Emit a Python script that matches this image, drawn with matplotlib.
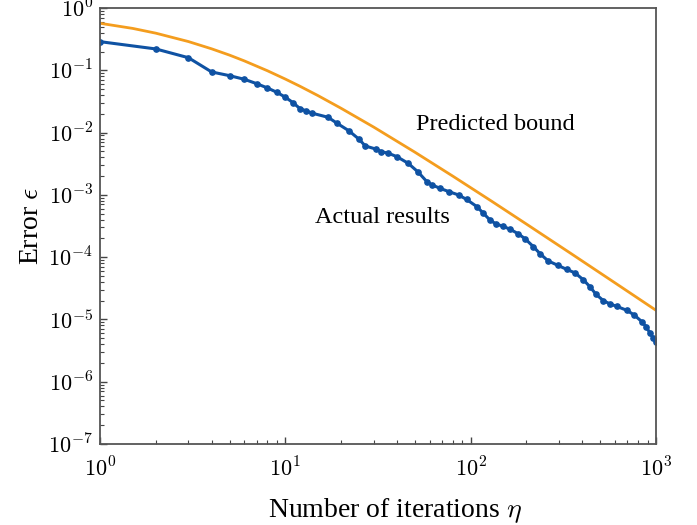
#! /usr/bin/python3
import matplotlib
matplotlib.use("Agg")
import matplotlib.pyplot as plt
from matplotlib.ticker import LogLocator, NullFormatter, FuncFormatter
import numpy as np

# actual results (blue)
actual_iter = [1, 2, 3, 4, 5, 6, 7, 8, 9, 10, 11, 12, 13, 14, 17, 19, 22, 25, 27,
               31, 33, 36, 40, 46, 52, 58, 62, 68, 76, 86, 95, 108, 117, 127, 137,
               150, 163, 181, 197, 218, 237, 262, 296, 330, 366, 406, 441, 475,
               520, 565, 614, 696, 762, 838, 885, 929, 965, 1000]
actual_err = [0.288, 0.22, 0.159, 0.094, 0.0819, 0.0717, 0.061, 0.052, 0.0443,
              0.0369, 0.0302, 0.0242, 0.0222, 0.0204, 0.0176, 0.0141, 0.0107,
              7.8e-3, 6.09e-3, 5.4e-3, 4.93e-3, 4.65e-3, 4.1e-3, 3.21e-3,
              2.33e-3, 1.63e-3, 1.44e-3, 1.28e-3, 1.13e-3, 9.96e-4, 8.44e-4,
              6.47e-4, 5.07e-4, 3.95e-4, 3.41e-4, 3.11e-4, 2.81e-4, 2.36e-4,
              1.96e-4, 1.47e-4, 1.13e-4, 8.69e-5, 7.36e-5, 6.35e-5, 5.57e-5,
              4.31e-5, 3.32e-5, 2.52e-5, 2.0e-5, 1.77e-5, 1.62e-5, 1.4e-5,
              1.18e-5, 9.22e-6, 7.59e-6, 6.01e-6, 5.05e-6, 4.28e-6]

# predicted bound (orange)
bound_iter = [1, 1.5, 2, 3, 4, 5, 6, 8, 10, 12, 15, 20, 30, 50, 80, 130, 200,
              350, 600, 1000]
bound_err = [0.568, 0.47, 0.394, 0.289, 0.221, 0.175, 0.1416, 0.0983, 0.0722,
             0.0553, 0.0392, 0.0245, 0.01222, 4.84e-3, 2.0e-3, 7.87e-4,
             3.39e-4, 1.127e-4, 3.87e-5, 1.4e-5]

BLUE = "#0f52a3"
ORANGE = "#f49d1e"

plt.rcParams["font.family"] = ["Liberation Serif", "DejaVu Serif"]
plt.rcParams["mathtext.fontset"] = "cm"

fig = plt.figure(figsize=(6.97, 5.25), dpi=100)
ax = fig.add_axes([0.1435, 0.1543, 0.7977, 0.8305])

ax.plot(bound_iter, bound_err, color=ORANGE, lw=2.0)
ax.plot(actual_iter, actual_err, color=BLUE, lw=2.2, marker="o", markersize=3.8)

ax.set_xscale("log")
ax.set_yscale("log")
ax.set_xlim(1, 1000)
ax.set_ylim(1e-7, 1)

pow_fmt = FuncFormatter(lambda v, pos: r"$10^{%d}$" % int(round(np.log10(v))))
ax.xaxis.set_major_formatter(pow_fmt)
ax.yaxis.set_major_locator(LogLocator(base=10, numticks=10))
ax.yaxis.set_major_formatter(pow_fmt)
ax.yaxis.set_minor_locator(LogLocator(base=10, subs=range(2, 10), numticks=20))
ax.yaxis.set_minor_formatter(NullFormatter())
ax.xaxis.set_minor_formatter(NullFormatter())

ax.tick_params(which="both", direction="in", top=False, right=False,
               labelsize=16, color="#444444")
ax.tick_params(which="major", length=5, width=1)
ax.tick_params(which="minor", length=3, width=0.8)
ax.tick_params(axis="x", pad=10)
ax.tick_params(axis="y", pad=5)
for s in ax.spines.values():
    s.set_color("#555555")
    s.set_linewidth(1.3)

ax.set_xlabel(r"Number of iterations $\eta$", fontsize=20)
ax.set_ylabel(r"Error $\epsilon$", fontsize=20)
ax.xaxis.set_label_coords(0.531, -0.12)
ax.yaxis.set_label_coords(-0.10, 0.5)

ax.text(135, 0.0137, "Predicted bound", fontsize=17.5, ha="center", va="center")
ax.text(33.3, 4.4e-4, "Actual results", fontsize=17.5, ha="center", va="center")

fig.savefig("out.png", dpi=100)
